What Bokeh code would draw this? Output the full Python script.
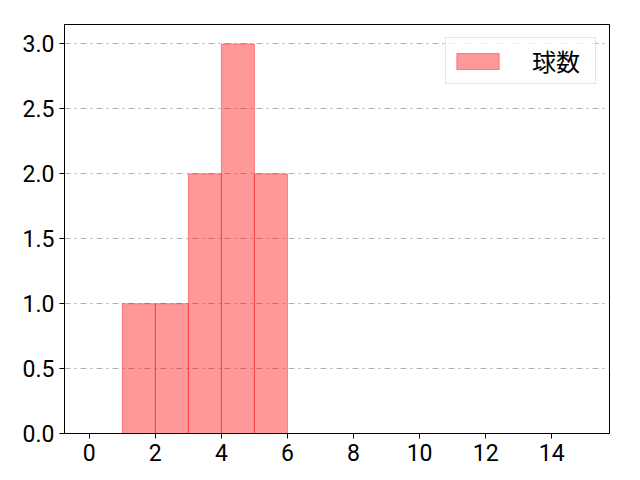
from bokeh.plotting import figure
from bokeh.models import Range1d, FixedTicker, Legend, LegendItem, NumeralTickFormatter
from bokeh.embed import file_html
from bokeh.resources import INLINE

# Data
bin_left = [1, 2, 3, 4, 5]
bin_right = [2, 3, 4, 5, 6]
counts = [1, 1, 2, 3, 2]
series_name = "球数"
x_ticks = [0, 2, 4, 6, 8, 10, 12, 14]
y_ticks = [0.0, 0.5, 1.0, 1.5, 2.0, 2.5, 3.0]

TICK_FONT = "Roboto"
CJK_FONT = "Noto Sans CJK JP"

p = figure(width=632, height=472, output_backend="svg", toolbar_location=None,
           x_range=Range1d(-0.75, 15.75), y_range=Range1d(0, 3.15),
           min_border_left=64, min_border_right=23, min_border_top=24, min_border_bottom=39)

r = p.quad(left=bin_left, right=bin_right, top=counts, bottom=[0] * len(counts),
           fill_color="red", fill_alpha=0.4, line_color="red", line_alpha=0.4, line_width=1)

p.outline_line_color = "black"
p.outline_line_width = 1
p.outline_line_alpha = 1

p.xgrid.visible = False
p.ygrid.grid_line_color = "#b0b0b0"
p.ygrid.grid_line_dash = "dashdot"
p.ygrid.grid_line_width = 1

p.xaxis.ticker = FixedTicker(ticks=x_ticks)
p.yaxis.ticker = FixedTicker(ticks=y_ticks)
p.yaxis.formatter = NumeralTickFormatter(format="0.0")

for ax in (p.xaxis[0], p.yaxis[0]):
    ax.major_label_text_font = TICK_FONT
    ax.major_label_text_font_size = "23px"
    ax.major_label_text_color = "black"
    ax.axis_line_color = "black"
    ax.major_tick_line_color = "black"
    ax.major_tick_out = 5
    ax.major_tick_in = 0
    ax.minor_tick_line_color = None
    ax.major_label_standoff = 5

legend = Legend(items=[LegendItem(label=series_name, renderers=[r])],
                location="top_right", margin=13, padding=5,
                glyph_width=53, glyph_height=20, label_standoff=28, label_width=58,
                label_text_font=CJK_FONT, label_text_font_size="24px",
                label_text_color="black",
                border_line_color="#cccccc", border_line_width=1,
                background_fill_alpha=0.8, spacing=0)
p.add_layout(legend)

open("out.html", "w").write(file_html(p, INLINE))
